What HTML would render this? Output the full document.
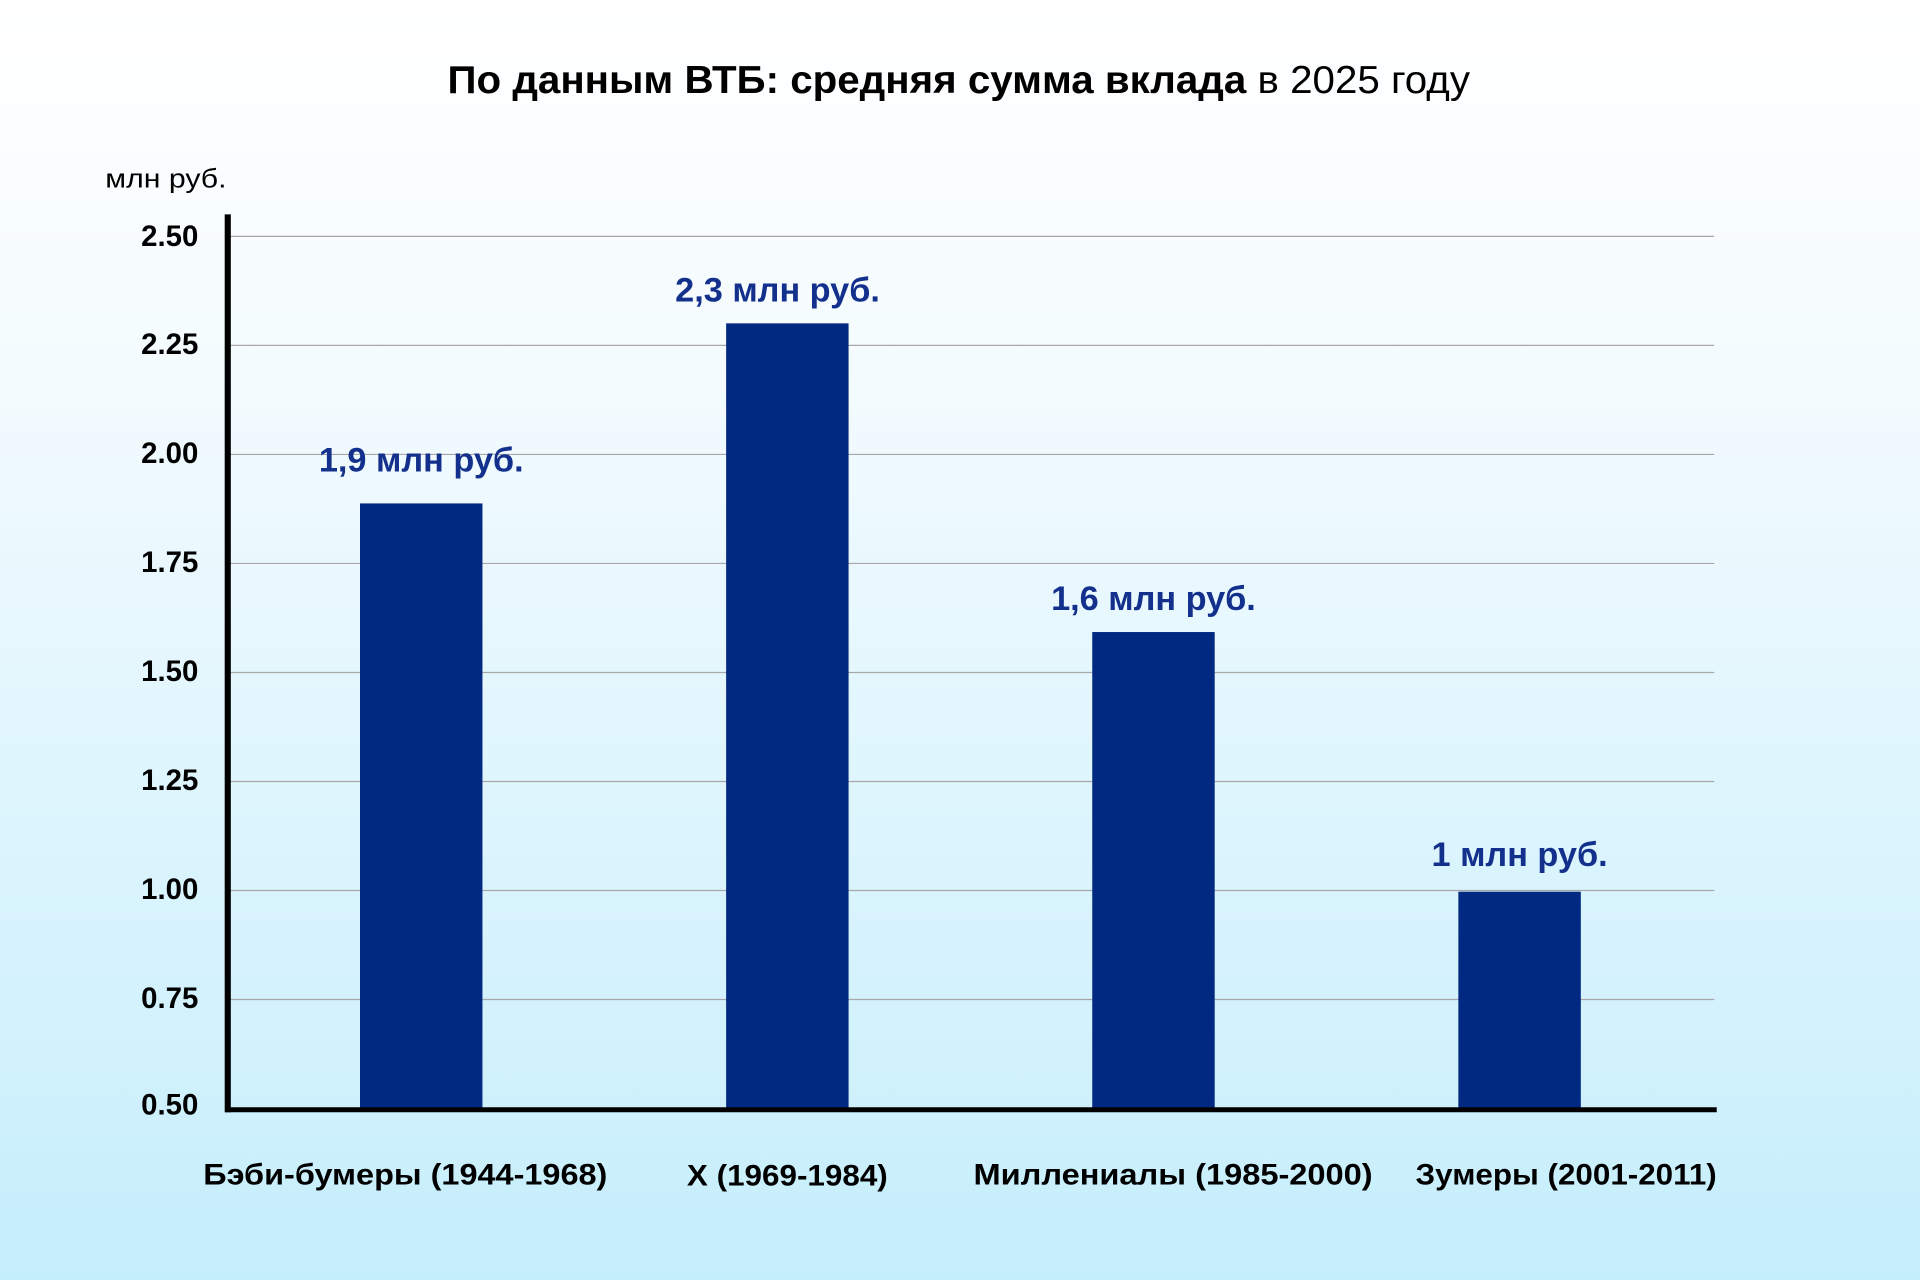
<!DOCTYPE html>
<html><head><meta charset="utf-8"><style>
html,body{margin:0;padding:0;width:1920px;height:1280px;overflow:hidden}
body{background:linear-gradient(to bottom,#ffffff 0%,#f3fbfe 30%,#c5eefc 100%)}
svg{display:block}
text{font-family:"Liberation Sans","DejaVu Sans",sans-serif}
</style></head><body>
<svg width="1920" height="1280" viewBox="0 0 1568 1045" preserveAspectRatio="none">
<text x="783" y="76" text-anchor="middle" font-size="32" fill="#000" textLength="835" lengthAdjust="spacingAndGlyphs"><tspan font-weight="bold">По данным ВТБ: средняя сумма вклада</tspan> в 2025 году</text>
<text x="86" y="153" font-size="22" fill="#000" textLength="99" lengthAdjust="spacingAndGlyphs">млн руб.</text>
<g stroke="#a8a8a8" stroke-width="1">
<line x1="186" x2="1400" y1="193" y2="193"/>
<line x1="186" x2="1400" y1="282" y2="282"/>
<line x1="186" x2="1400" y1="371" y2="371"/>
<line x1="186" x2="1400" y1="460" y2="460"/>
<line x1="186" x2="1400" y1="549" y2="549"/>
<line x1="186" x2="1400" y1="638" y2="638"/>
<line x1="186" x2="1400" y1="727" y2="727"/>
<line x1="186" x2="1400" y1="816" y2="816"/>
</g>
<g font-size="24" font-weight="bold" text-anchor="end" fill="#000">
<text x="162" y="201">2.50</text>
<text x="162" y="289">2.25</text>
<text x="162" y="378">2.00</text>
<text x="162" y="467">1.75</text>
<text x="162" y="556">1.50</text>
<text x="162" y="645">1.25</text>
<text x="162" y="734">1.00</text>
<text x="162" y="823">0.75</text>
<text x="162" y="910">0.50</text>
</g>
<g fill="#022981">
<rect x="294" y="411" width="100" height="495"/>
<rect x="593" y="264" width="100" height="642"/>
<rect x="892" y="516" width="100" height="390"/>
<rect x="1191" y="728" width="100" height="178"/>
</g>
<line x1="186" y1="175" x2="186" y2="908" stroke="#000" stroke-width="5"/>
<line x1="184" y1="906" x2="1402" y2="906" stroke="#000" stroke-width="4"/>
<g font-size="28" font-weight="bold" text-anchor="middle" fill="#12308c">
<text x="344" y="385">1,9 млн руб.</text>
<text x="635" y="246">2,3 млн руб.</text>
<text x="942" y="498">1,6 млн руб.</text>
<text x="1241" y="707">1 млн руб.</text>
</g>
<g font-size="24" font-weight="bold" text-anchor="middle" fill="#000">
<text x="331" y="967" textLength="330" lengthAdjust="spacingAndGlyphs">Бэби-бумеры (1944-1968)</text>
<text x="643" y="968" textLength="164" lengthAdjust="spacingAndGlyphs">X (1969-1984)</text>
<text x="958" y="967" textLength="326" lengthAdjust="spacingAndGlyphs">Миллениалы (1985-2000)</text>
<text x="1279" y="967" textLength="246" lengthAdjust="spacingAndGlyphs">Зумеры (2001-2011)</text>
</g>
</svg>
</body></html>
